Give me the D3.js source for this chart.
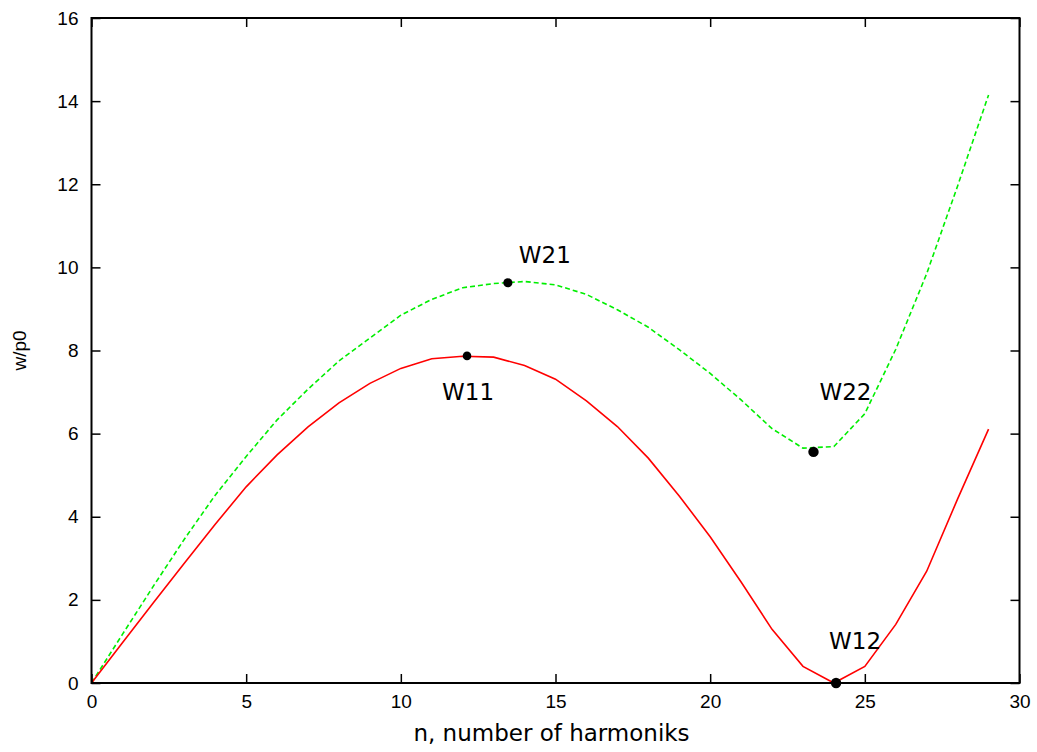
<!DOCTYPE html>
<html>
<head>
<meta charset="utf-8">
<script src="https://cdn.jsdelivr.net/npm/d3@7"></script>
<style>
  html, body { margin: 0; padding: 0; background: #fff; }
  svg { display: block; }
</style>
</head>
<body>
<svg id="chart" width="1037" height="752"></svg>
<script>
// Harmonic index n = 0..29
const harmonics = d3.range(0, 30);

// First mode w/p0 (solid red)
const w1 = [0, 0.97, 1.93, 2.88, 3.82, 4.72, 5.49, 6.16, 6.74, 7.21,
            7.57, 7.80, 7.86, 7.84, 7.64, 7.31, 6.79, 6.17, 5.41, 4.50,
            3.52, 2.43, 1.29, 0.40, 0.00, 0.40, 1.41, 2.69, 4.43, 6.11];

// Second mode w/p0 (dashed green)
const w2 = [0, 1.17, 2.33, 3.46, 4.52, 5.45, 6.33, 7.07, 7.75, 8.30,
            8.85, 9.23, 9.51, 9.61, 9.66, 9.58, 9.35, 8.98, 8.56, 8.02,
            7.45, 6.81, 6.12, 5.65, 5.69, 6.48, 8.03, 9.85, 11.96, 14.15];

// Marked extrema
const markerNames = ["W11", "W21", "W22", "W12"];
const markerN     = [12.14, 13.46, 23.34, 24.07];
const markerW     = [7.87, 9.63, 5.56, 0.0];
const markerR     = [4.3, 4.6, 5.2, 5.2];
// label anchor offsets relative to the marker (text centre, baseline)
const labelDx = [1, 37, 32, 19];
const labelDy = [44, -20, -52, -34];

const xTicks = [0, 5, 10, 15, 20, 25, 30];
const yTicks = [0, 2, 4, 6, 8, 10, 12, 14, 16];

const svg = d3.select("#chart");
const plotLeft = 91.5, plotRight = 1019.5, plotTop = 18, plotBottom = 683;

const x = d3.scaleLinear().domain([0, 30]).range([plotLeft, plotRight]);
const y = d3.scaleLinear().domain([0, 16]).range([plotBottom, plotTop]);

const tickFont = "'Liberation Sans', Arial, sans-serif";
const labelFont = "'DejaVu Sans', sans-serif";

// Curves
const line = d3.line().x((d, i) => x(harmonics[i])).y(d => y(d));

svg.append("path")
  .datum(w2)
  .attr("d", line)
  .attr("fill", "none")
  .attr("stroke", "#00ee00")
  .attr("stroke-width", 1.6)
  .attr("stroke-dasharray", "5,3");

svg.append("path")
  .datum(w1)
  .attr("d", line)
  .attr("fill", "none")
  .attr("stroke", "#ff0000")
  .attr("stroke-width", 1.6);

// Axes: ticks drawn inward on all four sides, labels on left/bottom
const tickLen = 9;
const gx = svg.append("g").attr("transform", `translate(0,${plotBottom})`)
  .call(d3.axisBottom(x).tickValues(xTicks).tickSize(-tickLen).tickPadding(12).tickFormat(d3.format("d")));
const gxTop = svg.append("g").attr("transform", `translate(0,${plotTop})`)
  .call(d3.axisTop(x).tickValues(xTicks).tickSize(-tickLen).tickFormat(""));
const gy = svg.append("g").attr("transform", `translate(${plotLeft},0)`)
  .call(d3.axisLeft(y).tickValues(yTicks).tickSize(-tickLen).tickPadding(13).tickFormat(d3.format("d")));
const gyR = svg.append("g").attr("transform", `translate(${plotRight},0)`)
  .call(d3.axisRight(y).tickValues(yTicks).tickSize(-tickLen).tickFormat(""));

[gx, gxTop, gy, gyR].forEach(g => {
  g.select(".domain").remove();
  g.selectAll(".tick line").attr("stroke", "#000").attr("stroke-width", 1.5);
  g.selectAll(".tick text").attr("font-family", tickFont).attr("font-size", 19).attr("fill", "#000");
});

// Frame
svg.append("rect")
  .attr("x", plotLeft).attr("y", plotTop)
  .attr("width", plotRight - plotLeft).attr("height", plotBottom - plotTop)
  .attr("fill", "none").attr("stroke", "#000").attr("stroke-width", 2);

// Marker dots and labels
markerNames.forEach((name, i) => {
  const cx = x(markerN[i]), cy = y(markerW[i]);
  svg.append("circle").attr("cx", cx).attr("cy", cy).attr("r", markerR[i]).attr("fill", "#000");
  svg.append("text")
    .attr("x", cx + labelDx[i]).attr("y", cy + labelDy[i])
    .attr("text-anchor", "middle")
    .attr("font-family", labelFont).attr("font-size", 23)
    .attr("fill", "#000")
    .text(name);
});

// Axis titles
svg.append("text")
  .attr("x", (plotLeft + plotRight) / 2 - 4).attr("y", 741)
  .attr("text-anchor", "middle")
  .attr("font-family", labelFont).attr("font-size", 23)
  .text("n, number of harmoniks");

svg.append("text")
  .attr("transform", `translate(26,${(plotTop + plotBottom) / 2}) rotate(-90)`)
  .attr("text-anchor", "middle")
  .attr("font-family", tickFont).attr("font-size", 19)
  .text("w/p0");
</script>
</body>
</html>
